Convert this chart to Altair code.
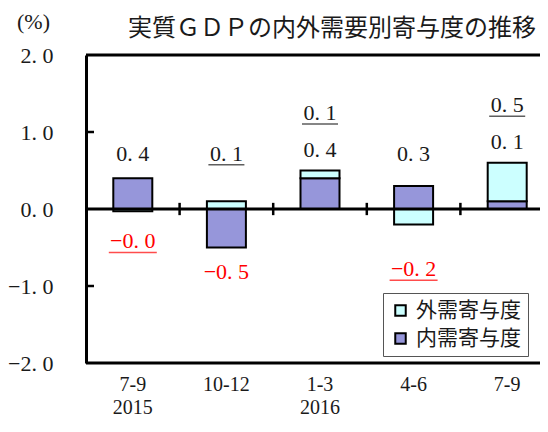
import altair as alt
import pandas as pd

quarters = ["7-9", "10-12", "1-3", "4-6", "7-9"]
years = ["2015", "", "2016", "", ""]
domestic = [0.4, -0.5, 0.4, 0.3, 0.1]
external = [-0.03, 0.1, 0.1, -0.2, 0.5]
series_names = ["外需寄与度", "内需寄与度"]
series_colors = ["#CCFFFF", "#9696DA"]
y_ticks = [-2.0, -1.0, 0.0, 1.0, 2.0]
title_text = "実質ＧＤＰの内外需要別寄与度の推移"
unit_text = "(%)"

keys = [f"{q}|{y}" for q, y in zip(quarters, years)]

rows = []
labels = []
for i, k in enumerate(keys):
    d, e = domestic[i], external[i]
    rows.append(dict(key=k, series=series_names[1], v=d, order=0))
    rows.append(dict(key=k, series=series_names[0], v=e, order=1))
    pos_top = max(d, 0) + max(e, 0)
    neg_bot = min(d, 0) + min(e, 0)
    first = max(0.72, pos_top + 0.27)
    n = 0
    for name, v in ((series_names[1], d), (series_names[0], e)):
        if v >= 0:
            ly = first + 0.48 * n
            n += 1
        else:
            ly = -0.42 if neg_bot > -0.1 else min(-0.78, neg_bot - 0.32)
        labels.append(dict(key=k, series=name, v=v, ly=ly, ul=(name == series_names[0])))

df = pd.DataFrame(rows)
lab = pd.DataFrame(labels)
frame_df = pd.DataFrame({"t": [y_ticks[0], 0.0, y_ticks[-1]]})
inner_ticks = pd.DataFrame({"t": [t for t in y_ticks if t not in (y_ticks[0], 0.0, y_ticks[-1])]})
bounds_df = pd.DataFrame({"key": keys[1:]})

NUM_FONT = "Liberation Serif"
CJK_FONT = "Noto Sans CJK JP"
INK = "#1a1a1a"

xscale = alt.Scale(range=[0, 468], paddingInner=0, paddingOuter=0)
yscale = alt.Scale(domain=[y_ticks[0], y_ticks[-1]], nice=False, zero=False)

x_axis = alt.Axis(title=None, domain=False, ticks=False, labelAngle=0,
                  labelExpr="split(datum.label, '|')", labelFont=NUM_FONT,
                  labelFontSize=20, labelPadding=11, labelLineHeight=23,
                  labelColor=INK)
y_axis = alt.Axis(values=y_ticks, title=unit_text, titleAngle=0, titleX=-53, titleY=-34,
                  titleAlign="center", titleBaseline="middle", titleFont=NUM_FONT,
                  titleFontSize=22, titleFontWeight="normal", titleColor=INK,
                  labelExpr="replace(format(datum.value, '.1f'), '.', '. ')",
                  labelFont=NUM_FONT, labelFontSize=22, labelColor=INK,
                  labelPadding=33, ticks=False, grid=False,
                  domainColor="black", domainWidth=3)

X = lambda **kw: alt.X("key:N", sort=keys, scale=xscale, axis=x_axis, **kw)
Y = lambda f: alt.Y(f, scale=yscale, axis=y_axis)

bars = alt.Chart(df).mark_bar(width=39, stroke="black", strokeWidth=2).encode(
    x=X(),
    y=alt.Y("v:Q", stack="zero", scale=yscale, axis=y_axis),
    color=alt.Color("series:N", scale=alt.Scale(domain=series_names, range=series_colors),
                    legend=alt.Legend(orient="none", legendX=297, legendY=238, title=None,
                                      fillColor="white", strokeColor="#555", padding=7,
                                      symbolType="square", symbolSize=110,
                                      symbolStrokeColor="black", symbolStrokeWidth=2,
                                      labelFont=CJK_FONT, labelFontSize=21, labelColor=INK,
                                      rowPadding=6, labelOffset=5)),
    order=alt.Order("order:Q"),
)

frame = alt.Chart(frame_df).mark_rule(color="black", strokeWidth=3).encode(
    y=Y("t:Q"), x=alt.value(0), x2=alt.value(470)
)

yt = alt.Chart(inner_ticks).mark_rule(color="black", strokeWidth=2.5).encode(
    y=Y("t:Q"), x=alt.value(0), x2=alt.value(8)
)

bticks = alt.Chart(bounds_df).mark_rule(color="black", strokeWidth=2.5).encode(
    x=X(bandPosition=0),
    y=alt.datum(0.08, scale=yscale, axis=y_axis), y2=alt.datum(-0.08),
)

label_expr = ("(datum.v < 0 ? '\u2212' : '') + "
              "replace(format(abs(datum.v), '.1f'), '.', '. ')")

texts = alt.Chart(lab).transform_calculate(txt=label_expr).mark_text(
    font=NUM_FONT, fontSize=22, baseline="middle", align="center").encode(
    x=X(),
    y=Y("ly:Q"),
    text="txt:N",
    color=alt.condition("datum.v < 0", alt.value("#FF0000"), alt.value(INK)),
)

unders = alt.Chart(lab).transform_filter("datum.ul").transform_calculate(
    uy="datum.ly - 0.145"
).mark_tick(thickness=1.5, orient="horizontal").encode(
    x=X(),
    y=Y("uy:Q"),
    size=alt.condition("datum.v < 0", alt.value(48), alt.value(36)),
    color=alt.condition("datum.v < 0", alt.value("#FF0000"), alt.value(INK)),
)

chart = alt.layer(bars, frame, yt, bticks, texts, unders).properties(
    width=454, height=308,
    autosize=alt.AutoSizeParams(type="none"),
    padding={"left": 78, "top": 47, "right": 0, "bottom": 55},
    title=alt.TitleParams(text=title_text, font=CJK_FONT, fontSize=24, fontWeight="normal",
                          anchor="start", frame="group", dx=42, dy=35, color=INK),
).configure_view(stroke=None)

chart.save("out.html", embed_options={"renderer": "svg", "actions": False})
